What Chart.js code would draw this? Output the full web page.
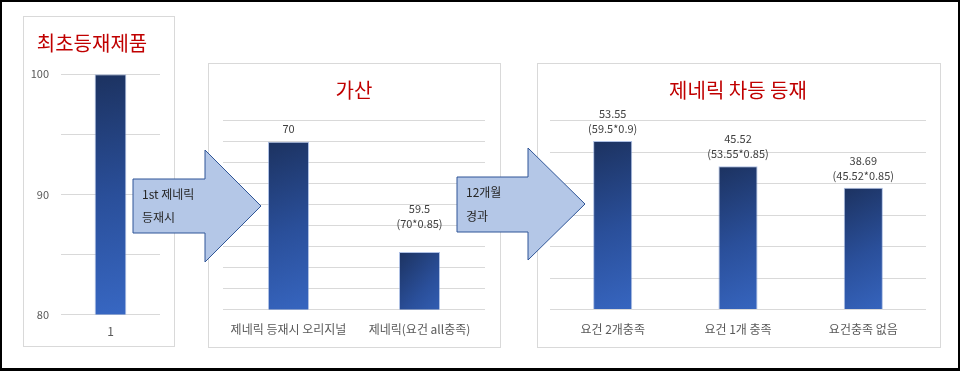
<!DOCTYPE html>
<html>
<head>
<meta charset="utf-8">
<script src="https://cdn.jsdelivr.net/npm/chart.js@4/dist/chart.umd.min.js"></script>
<style>
  body { margin: 0; background: #fff; font-family: "Noto Sans CJK KR", sans-serif; }
  #frame { position: absolute; left: 0; top: 0; width: 960px; height: 371px; box-sizing: border-box;
           border: 2px solid #000; border-bottom-width: 3px; }
  .box { position: absolute; box-sizing: border-box; border: 1px solid #d9d9d9; }
  .plot { position: absolute; }
  #arrows { position: absolute; left: 0; top: 0; }
  #arrows text { font-family: "Noto Sans CJK KR", sans-serif; font-size: 12px; fill: #262626; }
</style>
</head>
<body>
<div id="frame"></div>
<div class="box" style="left:23px;top:16px;width:152px;height:331px"></div>
<div class="box" style="left:208px;top:63px;width:293px;height:285px"></div>
<div class="box" style="left:537px;top:63px;width:404px;height:285px"></div>

<div class="plot" style="left:24px;top:17px;width:150px;height:331px"><canvas id="first"></canvas></div>
<div class="plot" style="left:209px;top:64px;width:291px;height:286px"><canvas id="add"></canvas></div>
<div class="plot" style="left:538px;top:64px;width:403px;height:286px"><canvas id="tier"></canvas></div>

<svg id="arrows" width="960" height="371">
  <polygon points="133,179 205,179 205,150 261,206 205,262 205,233 133,233"
           fill="#b4c7e7" stroke="#2f5597" stroke-width="1"/>
  <text x="142" y="199">1st 제네릭</text>
  <text x="142" y="222">등재시</text>
  <polygon points="457,177 528,177 528,148 585,204 528,260 528,232 457,232"
           fill="#b4c7e7" stroke="#2f5597" stroke-width="1"/>
  <text x="466" y="197">12개월</text>
  <text x="466" y="221">경과</text>
</svg>

<script>
// 최초등재제품
const firstLabels = ["1"];
const firstValues = [100];

// 가산
const addLabels = ["제네릭 등재시 오리지널", "제네릭(요건 all충족)"];
const addValues = [70, 59.5];
const addNotes = ["", "(70*0.85)"];

// 제네릭 차등 등재
const tierLabels = ["요건 2개충족", "요건 1개 충족", "요건충족 없음"];
const tierValues = [53.55, 45.52, 38.69];
const tierNotes = ["(59.5*0.9)", "(53.55*0.85)", "(45.52*0.85)"];

const FONT = "'Noto Sans CJK KR', sans-serif";

// each bar gets its own dark-to-light diagonal fill
const gradientBars = {
  id: "gradientBars",
  beforeDatasetsDraw(chart) {
    const ctx = chart.ctx;
    const bottom = chart.chartArea.bottom;
    chart.getDatasetMeta(0).data.forEach((bar) => {
      const left = bar.x - bar.width / 2;
      const base = Math.min(bar.base, bottom);
      const g = ctx.createLinearGradient(left, bar.y, left + bar.width * 1.6, base);
      g.addColorStop(0, "#1c3260");
      g.addColorStop(0.5, "#2a4f9a");
      g.addColorStop(1, "#3868c4");
      bar.options = Object.assign({}, bar.options, { backgroundColor: g });
    });
  },
};

// value text above bars (value + optional formula line)
const barNotes = {
  id: "barNotes",
  afterDatasetsDraw(chart, args, opts) {
    if (!opts.values) return;
    const ctx = chart.ctx;
    ctx.save();
    ctx.font = "11px " + FONT;
    ctx.fillStyle = "#404040";
    ctx.textAlign = "center";
    ctx.textBaseline = "middle";
    chart.getDatasetMeta(0).data.forEach((bar, i) => {
      const lift = (opts.lift && opts.lift[i]) || 0;
      const note = opts.notes ? opts.notes[i] : "";
      if (note) {
        ctx.fillText(String(opts.values[i]), bar.x, bar.y - 27 - lift);
        ctx.fillText(note, bar.x, bar.y - 12 - lift);
      } else {
        ctx.fillText(String(opts.values[i]), bar.x, bar.y - 13 - lift);
      }
    });
    ctx.restore();
  },
};

function makeChart(id, cfg) {
  return new Chart(document.getElementById(id), {
    type: "bar",
    data: {
      labels: cfg.labels,
      datasets: [{
        data: cfg.values,
        backgroundColor: "#2a4f96",
        borderColor: "rgba(120,150,210,0.6)",
        borderWidth: 1,
        barPercentage: cfg.barPct,
        categoryPercentage: 1,
      }],
    },
    plugins: [gradientBars, barNotes],
    options: {
      responsive: true,
      maintainAspectRatio: false,
      animation: false,
      layout: { padding: cfg.padding },
      plugins: {
        legend: { display: false },
        tooltip: { enabled: false },
        title: {
          display: true,
          text: cfg.title,
          color: "#c00000",
          font: { family: FONT, size: 20, weight: "normal", lineHeight: 1.2 },
          padding: cfg.titlePad,
        },
        barNotes: { values: cfg.noteValues, notes: cfg.notes, lift: cfg.lift },
      },
      scales: {
        x: {
          grid: { display: false, drawTicks: false },
          border: { display: false },
          ticks: { color: "#595959", font: { family: FONT, size: 12, lineHeight: 1.2 }, padding: cfg.xPad, maxRotation: 0 },
        },
        y: {
          min: cfg.min,
          max: cfg.max,
          grid: { color: "#d9d9d9", lineWidth: 1, drawTicks: false },
          border: { display: false },
          afterFit: cfg.yWidth ? (s) => { s.width = cfg.yWidth; } : undefined,
          ticks: {
            display: cfg.showY,
            stepSize: cfg.step,
            color: "#595959",
            padding: 12,
            font: { family: FONT, size: 11 },
            callback: (v) => (v % 10 === 0 ? v : ""),
          },
        },
      },
    },
  });
}

makeChart("first", {
  labels: firstLabels, values: firstValues, title: "최초등재제품",
  min: 80, max: 100, step: 5, showY: true, yWidth: 37, barPct: 0.32,
  padding: { left: 0, right: 14, top: 0, bottom: 0 },
  titlePad: { top: 14, bottom: 19.3 }, xPad: 9.5,
});

makeChart("add", {
  labels: addLabels, values: addValues, title: "가산",
  min: 54, max: 72, step: 2, showY: false, barPct: 0.313,
  padding: { left: 14, right: 15, top: 0, bottom: 0 },
  titlePad: { top: 14, bottom: 18.7 }, xPad: 13,
  noteValues: addValues, notes: addNotes, lift: [0, 16],
});

makeChart("tier", {
  labels: tierLabels, values: tierValues, title: "제네릭 차등 등재",
  min: 0, max: 60, step: 10, showY: false, barPct: 0.312,
  padding: { left: 12, right: 15, top: 0, bottom: 0 },
  titlePad: { top: 14, bottom: 18.7 }, xPad: 13,
  noteValues: tierValues, notes: tierNotes,
});
</script>
</body>
</html>
